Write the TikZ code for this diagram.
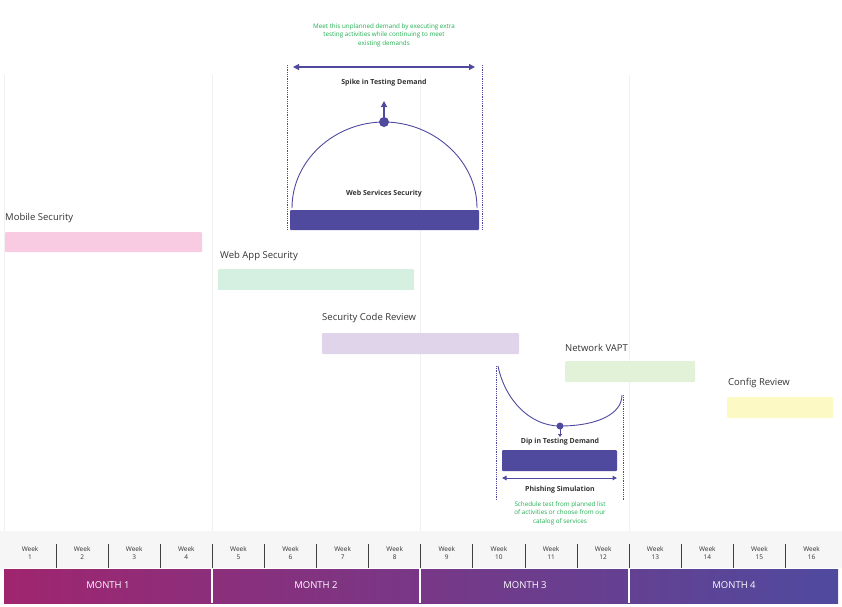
\documentclass[tikz,border=0pt]{standalone}
\usepackage{fontspec}
\setmainfont{Open Sans}
\usetikzlibrary{arrows.meta}
\definecolor{purp}{HTML}{4F4A9E}
\definecolor{grn}{HTML}{1FAE4F}
\definecolor{txt}{HTML}{333333}
\definecolor{magA}{HTML}{A0256F}
\definecolor{magB}{HTML}{4F4A9E}
\definecolor{cpink}{HTML}{F8CBE3}
\definecolor{cmint}{HTML}{D5EFE0}
\definecolor{clav}{HTML}{E0D4EA}
\definecolor{clime}{HTML}{E2F2D9}
\definecolor{cyel}{HTML}{FDF9C4}
\tikzset{
 lab/.style={anchor=west,font=\fontsize{9.5}{11}\selectfont,text=txt,inner sep=0},
 bold/.style={font=\fontsize{7}{8}\selectfont\bfseries,text=txt,inner sep=0},
 note/.style={font=\fontsize{6.3}{8.6}\selectfont,text=grn,align=center,inner sep=0},
 bar/.style={draw=none,rounded corners=1pt},
 wk/.style={font=\fontsize{6.5}{8}\selectfont,text=txt,align=center,inner sep=0},
 mo/.style={font=\fontsize{9.5}{11}\selectfont,text=white,inner sep=0},
 dots/.style={purp,densely dotted,line width=0.8pt},
 arr/.style={purp,line width=1.2pt,-{Triangle[length=6pt,width=6pt]}},
 darr/.style={purp,line width=1.2pt,{Triangle[length=6pt,width=6pt]}-{Triangle[length=6pt,width=6pt]}},
}
\begin{document}
\begin{tikzpicture}[x=1pt,y=-1pt]
\useasboundingbox (0,0) rectangle (842,606);
% grid
\foreach \x in {4,212,420,629} \draw[gray!12,line width=0.8pt] (\x,75) -- (\x,531);
% week row
\fill[gray!7] (0,531) rectangle (842,568);
\foreach \i in {1,...,16}{
 \pgfmathsetmacro\cx{4+(\i-0.5)*52.1}
 \node[wk] (w\i) at (\cx,553) {Week\\\i};
}
\foreach \i in {1,...,15}{
 \pgfmathsetmacro\sx{4+\i*52.1}
 \draw[black!75,line width=1pt] (\sx,544) -- (\sx,568);
}
% month bar
\shade[left color=magA,right color=magB] (4,569) rectangle (838,603);
\foreach \x in {212,420,629} \draw[white,line width=1.2pt] (\x,569) -- (\x,603);
\node[mo] (m1) at (108,585) {MONTH 1};
\node[mo] (m2) at (316,585) {MONTH 2};
\node[mo] (m3) at (525,585) {MONTH 3};
\node[mo] (m4) at (734,585) {MONTH 4};
% bars
\fill[bar,fill=cpink] (5,232) rectangle (202,252);
\node[lab] (l1) at (5,218) {Mobile Security};
\fill[bar,fill=cmint] (218,269) rectangle (414,290);
\node[lab] (l2) at (220,256) {Web App Security};
\fill[bar,fill=clav] (322,333) rectangle (519,354);
\node[lab] (l3) at (322,318) {Security Code Review};
\fill[bar,fill=clime] (565,361) rectangle (695,382);
\node[lab] (l4) at (565,348) {Network VAPT};
\fill[bar,fill=cyel] (727,397) rectangle (833,418);
\node[lab] (l5) at (728,383) {Config Review};
% spike
\fill[bar,fill=purp] (290,210) rectangle (479,230);
\node[bold] (ws) at (384,194) {Web Services Security};
\draw[purp,line width=0.9pt] (292,208) .. controls (292,160) and (335,122) .. (384,122) .. controls (433,122) and (477,160) .. (477,208);
\fill[purp] (384,122) circle (5);
\coordinate (sp) at (384,122);
\coordinate (spt) at (384,101);
\draw[arr] (sp) -- (spt);
\node[bold] (spk) at (384,83) {Spike in Testing Demand};
\coordinate (d1) at (293,67); \coordinate (d2) at (475,67);
\draw[darr] (d1) -- (d2);
\draw[dots] (287,65) -- (287,230);
\draw[dots] (482,65) -- (482,230);
\node[note] (n1) at (384,35) {Meet this unplanned demand by executing extra\\testing activities while continuing to meet\\existing demands};
% dip
\draw[dots] (496,366) -- (496,500);
\draw[dots] (623,395) -- (623,500);
\draw[purp,line width=0.9pt] (498,366) .. controls (505,400) and (530,426) .. (560,426) .. controls (595,426) and (622,415) .. (622,395);
\fill[purp] (560,426) circle (3.5);
\coordinate (dp) at (560,426); \coordinate (dpt) at (560,437);
\draw[purp,line width=0.8pt,-{Triangle[length=3pt,width=4pt]}] (dp) -- (dpt);
\node[bold] (dip) at (560,442) {Dip in Testing Demand};
\fill[bar,fill=purp] (502,450) rectangle (617,471);
\coordinate (e1) at (502,478); \coordinate (e2) at (617,478);
\draw[purp,line width=1pt,{Triangle[length=4.5pt,width=4.5pt]}-{Triangle[length=4.5pt,width=4.5pt]}] (e1) -- (e2);
\node[bold] (ph) at (560,490) {Phishing Simulation};
\node[note] (n2) at (560,513) {Schedule test from planned list\\of activities or choose from our\\catalog of services};
\end{tikzpicture}
\end{document}
